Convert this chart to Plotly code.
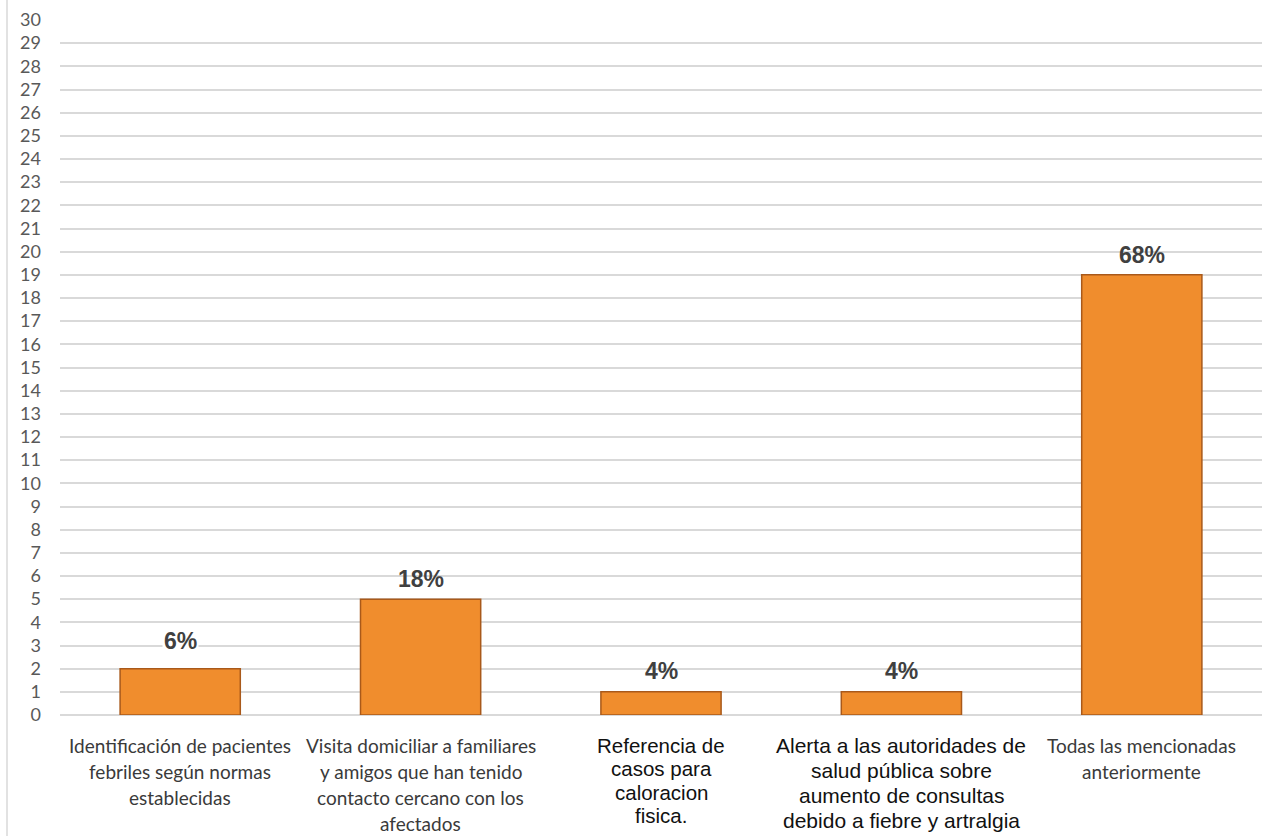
import plotly.graph_objects as go

# Survey responses: counts per action and their share of all answers
categories = [
    "Identificación de pacientes<br>febriles según normas<br>establecidas",
    "Visita domiciliar a familiares<br>y amigos que han tenido<br>contacto cercano con los<br>afectados",
    "Referencia de<br>casos para<br>caloracion<br>fisica.",
    "Alerta a las autoridades de<br>salud pública sobre<br>aumento de consultas<br>debido a fiebre y artralgia",
    "Todas las mencionadas<br>anteriormente",
]
counts = [2, 5, 1, 1, 19]
pct_labels = ["6%", "18%", "4%", "4%", "68%"]
y_ticks = list(range(0, 31))

NARROW = "Lato, Roboto, sans-serif"
ARIAL = "Liberation Sans, Arial, sans-serif"
label_fonts = [NARROW, NARROW, ARIAL, ARIAL, NARROW]
label_sizes = [19, 19, 20.5, 21, 19]
label_colors = ["#3a3a3a", "#3a3a3a", "#111111", "#111111", "#3a3a3a"]
label_spacing = [26, 26, 23.5, 25, 26]
value_shift = [28, 20, 21, 21, 20]

W, H = 1262, 836
L, R, T, B = 60, 0, 20, 121

fig = go.Figure()
fig.add_trace(go.Bar(
    x=list(range(len(categories))),
    y=counts,
    width=0.5,
    marker=dict(color="#F08D2D", line=dict(color="#A9591A", width=1.5)),
    hoverinfo="skip",
))

annotations = []
for i, (v, t) in enumerate(zip(counts, pct_labels)):
    annotations.append(dict(
        x=i, y=v, xref="x", yref="y", text=f"<b>{t}</b>", showarrow=False,
        yanchor="middle", yshift=value_shift[i],
        font=dict(family=ARIAL, size=23, color="#404040"),
        bgcolor="white" if i == 0 else "rgba(0,0,0,0)",
    ))

for i, c in enumerate(categories):
    lines = c.split("<br>")
    for j, line in enumerate(lines):
        annotations.append(dict(
            x=i, y=0, xref="x", yref="paper", text=line, showarrow=False,
            yanchor="middle", yshift=-30 - j * label_spacing[i],
            font=dict(family=label_fonts[i], size=label_sizes[i], color=label_colors[i]),
        ))

fig.update_layout(
    width=W, height=H,
    margin=dict(l=L, r=R, t=T, b=B),
    paper_bgcolor="white", plot_bgcolor="white",
    showlegend=False,
    annotations=annotations,
    xaxis=dict(
        range=[-0.5, len(categories) - 0.5],
        showticklabels=False, showgrid=False, zeroline=False, ticks="",
        showline=False,
    ),
    yaxis=dict(
        range=[0, 30],
        tickvals=y_ticks, ticktext=[str(v) for v in y_ticks],
        showgrid=True, gridcolor="#d9d9d9", gridwidth=1.5,
        zeroline=True, zerolinecolor="#d9d9d9", zerolinewidth=1.5,
        showline=False, ticks="",
        ticklabelstandoff=18,
        tickfont=dict(family=NARROW, size=18, color="#595959"),
    ),
    shapes=[dict(
        type="line", xref="paper", yref="paper",
        x0=(7 - L) / (W - L - R), x1=(7 - L) / (W - L - R),
        y0=-B / (H - T - B), y1=1 + T / (H - T - B),
        line=dict(color="#d9d9d9", width=1.5),
    )],
)

fig.write_html("out.html")
